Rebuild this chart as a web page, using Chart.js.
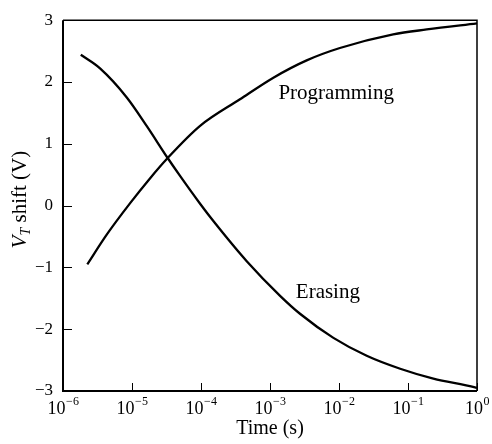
<!DOCTYPE html>
<html>
<head>
<meta charset="utf-8">
<script src="https://cdn.jsdelivr.net/npm/chart.js@4"></script>
<style>
  html, body { margin: 0; padding: 0; background: #fff; }
</style>
</head>
<body>
<canvas id="vt-chart" width="492" height="444"></canvas>
<script>
"use strict";

//=> Data (time in seconds, shift in volts)
var eraseTimes = [1.81e-6, 3.44e-6, 8.4e-6, 1.63e-5, 3.29e-5, 4.97e-5, 9.7e-5, 1.51e-4, 4.6e-4, 1.40e-3, 2.72e-3, 8.3e-3, 2.52e-2, 7.7e-2, 0.233, 0.935, 1];
var eraseShift = [2.44, 2.22, 1.75, 1.29, 0.77, 0.48, 0.03, -0.25, -0.90, -1.46, -1.75, -2.14, -2.43, -2.64, -2.80, -2.94, -2.95];
var progTimes = [2.25e-6, 4.3e-6, 9.4e-6, 1.82e-5, 3.29e-5, 9.7e-5, 3.67e-4, 1.12e-3, 3.40e-3, 1.03e-2, 6.1e-2, 0.187, 1];
var progShift = [-0.95, -0.47, 0.04, 0.44, 0.77, 1.29, 1.72, 2.07, 2.35, 2.55, 2.77, 2.85, 2.95];

var xTicks = [1e-6, 1e-5, 1e-4, 1e-3, 1e-2, 1e-1, 1];
var xTickExponents = ['−6', '−5', '−4', '−3', '−2', '−1', '0'];
var yTicks = [-3, -2, -1, 0, 1, 2, 3];

var curveLabels = [
    { text: 'Programming', x: 9.1e-3, y: 1.82 },
    { text: 'Erasing', x: 6.9e-3, y: -1.40 }
];

var serif = "'Liberation Serif', 'Times New Roman', serif";

function toPoints(xs, ys) {
    return xs.map(function (x, i) { return { x: x, y: ys[i] }; });
}

//=> Frame, inward ticks, superscript tick labels, axis title, curve names
var decorPlugin = {
    id: 'decor',
    afterDraw: function (chart) {
        var ctx = chart.ctx;
        var a = chart.chartArea;
        var xs = chart.scales.x;
        var ys = chart.scales.y;

        ctx.save();
        ctx.strokeStyle = '#000';
        ctx.lineWidth = 1.5;
        ctx.beginPath();
        ctx.moveTo(a.left, a.top);
        ctx.lineTo(a.right, a.top);
        ctx.lineTo(a.right, a.bottom);
        ctx.stroke();
        ctx.lineWidth = 2;
        ctx.beginPath();
        ctx.moveTo(a.left, a.top);
        ctx.lineTo(a.left, a.bottom);
        ctx.lineTo(a.right, a.bottom);
        ctx.stroke();

        ctx.lineWidth = 1;
        ctx.beginPath();
        yTicks.forEach(function (v) {
            var py = Math.round(ys.getPixelForValue(v)) + 0.5;
            ctx.moveTo(a.left, py);
            ctx.lineTo(a.left + 9, py);
        });
        xTicks.forEach(function (v) {
            var px = Math.round(xs.getPixelForValue(v)) + 0.5;
            ctx.moveTo(px, a.bottom);
            ctx.lineTo(px, a.bottom - 8);
        });
        ctx.stroke();

        ctx.fillStyle = '#000';
        ctx.textAlign = 'left';
        ctx.textBaseline = 'alphabetic';
        xTicks.forEach(function (v, i) {
            var px = xs.getPixelForValue(v);
            ctx.font = '18px ' + serif;
            var wBase = ctx.measureText('10').width;
            ctx.font = '12px ' + serif;
            var wExp = ctx.measureText(xTickExponents[i]).width;
            var start = px - (wBase + wExp) / 2;
            ctx.font = '18px ' + serif;
            ctx.fillText('10', start, a.bottom + 23);
            ctx.font = '12px ' + serif;
            ctx.fillText(xTickExponents[i], start + wBase + 0.5, a.bottom + 14);
        });

        // y axis title: V_T shift (V)
        ctx.translate(26, (a.top + a.bottom) / 2 - 6);
        ctx.rotate(-Math.PI / 2);
        var parts = [
            { t: 'V', f: 'italic 21px ' + serif, dy: 0 },
            { t: 'T', f: 'italic 14px ' + serif, dy: 4 },
            { t: ' shift (V)', f: '21px ' + serif, dy: 0 }
        ];
        var total = 0;
        parts.forEach(function (p) { ctx.font = p.f; p.w = ctx.measureText(p.t).width; total += p.w; });
        var cx = -total / 2;
        parts.forEach(function (p) {
            ctx.font = p.f;
            ctx.fillText(p.t, cx, p.dy);
            cx += p.w;
        });
        ctx.restore();

        ctx.save();
        ctx.fillStyle = '#000';
        ctx.font = '21px ' + serif;
        ctx.textAlign = 'center';
        ctx.textBaseline = 'middle';
        curveLabels.forEach(function (l) {
            ctx.fillText(l.text, xs.getPixelForValue(l.x), ys.getPixelForValue(l.y));
        });
        ctx.restore();
    }
};

var ctx = document.getElementById('vt-chart').getContext('2d');
var vtChart = new Chart(ctx, {
    type: 'line',
    data: {
        datasets: [{
            label: 'Erasing',
            data: toPoints(eraseTimes, eraseShift),
            borderColor: '#000',
            borderWidth: 2.3,
            pointRadius: 0,
            cubicInterpolationMode: 'monotone',
            fill: false
        }, {
            label: 'Programming',
            data: toPoints(progTimes, progShift),
            borderColor: '#000',
            borderWidth: 2.3,
            pointRadius: 0,
            cubicInterpolationMode: 'monotone',
            fill: false
        }]
    },
    options: {
        responsive: false,
        animation: false,
        layout: { padding: { top: 16, right: 15, left: 0, bottom: 0 } },
        plugins: {
            legend: { display: false },
            tooltip: { enabled: false }
        },
        scales: {
            x: {
                type: 'logarithmic',
                min: 1e-6,
                max: 1,
                grid: { display: false },
                border: { display: false },
                afterBuildTicks: function (scale) {
                    scale.ticks = xTicks.map(function (v) { return { value: v }; });
                },
                afterFit: function (scale) { scale.height = 53; },
                ticks: { callback: function () { return ''; } },
                title: {
                    display: true,
                    text: 'Time (s)',
                    color: '#000',
                    font: { family: serif, size: 20 },
                    padding: { top: 0, bottom: 3 }
                }
            },
            y: {
                min: -3,
                max: 3,
                grid: { display: false, drawTicks: false },
                border: { display: false },
                afterBuildTicks: function (scale) {
                    scale.ticks = yTicks.map(function (v) { return { value: v }; });
                },
                afterFit: function (scale) { scale.width = 63; },
                ticks: {
                    padding: 10,
                    color: '#000',
                    font: { family: serif, size: 17 },
                    callback: function (v) { return v < 0 ? '−' + Math.abs(v) : String(v); }
                }
            }
        }
    },
    plugins: [decorPlugin]
});
</script>
</body>
</html>
